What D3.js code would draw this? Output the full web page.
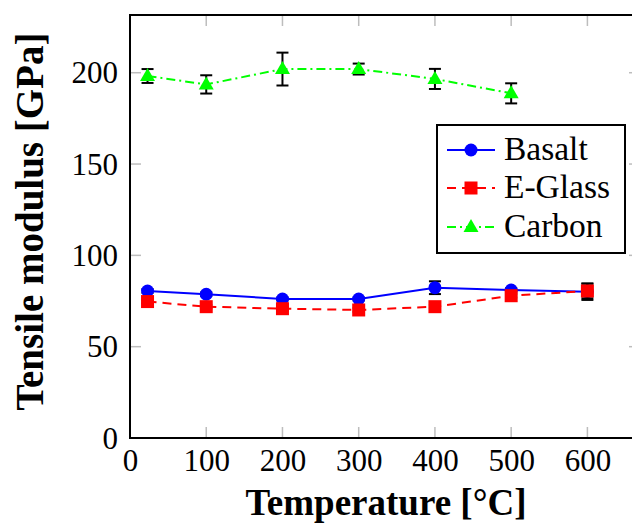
<!DOCTYPE html>
<html>
<head>
<meta charset="utf-8">
<script src="https://cdn.jsdelivr.net/npm/d3@7"></script>
<style>
  body { margin: 0; background: #fff; }
  svg { display: block; }
  svg text { font-family: "Liberation Serif", "DejaVu Serif", serif !important; fill: #000; }
</style>
</head>
<body>
<script>
// data
const temps = [23, 100, 200, 300, 400, 500, 600];
const basalt = [80.5, 78.7, 76.1, 76.1, 82.3, 81, 80.1];
const basaltErr = [1, 1, 0.8, 0.8, 3.5, 1, 4.5];
const eglass = [74.7, 71.9, 70.8, 70.1, 71.9, 77.9, 80.5];
const eglassErr = [1, 1, 1, 1, 1, 1, 4];
const carbonTemps = [23, 100, 200, 300, 400, 500];
const carbon = [198.2, 193.6, 202, 202, 196.6, 188.7];
const carbonErr = [3.8, 5, 9, 3, 5.5, 5.5];
const xTicks = [0, 100, 200, 300, 400, 500, 600];
const yTicks = [0, 50, 100, 150, 200];

const width = 632, height = 524;
const margin = { top: 15, left: 130, bottom: 86 };
const plotRight = 640;

const svg = d3.select('body').append('svg')
    .attr('width', width)
    .attr('height', height);

const x = d3.scaleLinear().domain([0, 669]).range([margin.left, plotRight]);
const y = d3.scaleLinear().domain([0, 231.6]).range([height - margin.bottom, margin.top]);

const plotBottom = height - margin.bottom;
const tickLen = 11;

// inner tick marks (gray) on all four sides
const tickG = svg.append('g').attr('stroke', '#bdbdbd').attr('stroke-width', 1.5);
xTicks.forEach(t => {
    tickG.append('line').attr('x1', x(t)).attr('x2', x(t)).attr('y1', plotBottom).attr('y2', plotBottom - tickLen);
    tickG.append('line').attr('x1', x(t)).attr('x2', x(t)).attr('y1', margin.top).attr('y2', margin.top + tickLen);
});
yTicks.forEach(t => {
    tickG.append('line').attr('x1', margin.left).attr('x2', margin.left + tickLen).attr('y1', y(t)).attr('y2', y(t));
    tickG.append('line').attr('x1', plotRight).attr('x2', plotRight - tickLen).attr('y1', y(t)).attr('y2', y(t));
});

// tick labels via d3 axes
const xAxis = d3.axisBottom(x).tickValues(xTicks).tickSize(0);
const gx = svg.append('g')
    .attr('transform', `translate(0, ${plotBottom})`)
    .call(xAxis);
gx.select('.domain').remove();
gx.selectAll('text')
    .attr('font-size', 31)
    .attr('y', 33)
    .attr('dy', null);

const yAxis = d3.axisLeft(y).tickValues(yTicks).tickSize(0);
const gy = svg.append('g')
    .attr('transform', `translate(${margin.left}, 0)`)
    .call(yAxis);
gy.select('.domain').remove();
gy.selectAll('text')
    .attr('font-size', 31)
    .attr('x', -12)
    .attr('dy', 10);

// frame
svg.append('rect')
    .attr('x', margin.left)
    .attr('y', margin.top)
    .attr('width', plotRight - margin.left)
    .attr('height', plotBottom - margin.top)
    .attr('fill', 'none')
    .attr('stroke', '#000')
    .attr('stroke-width', 2);

// axis titles
svg.append('text')
    .attr('x', 386)
    .attr('y', 515)
    .attr('text-anchor', 'middle')
    .attr('font-size', 37)
    .attr('font-weight', 'bold')
    .text('Temperature [°C]');
svg.append('text')
    .attr('transform', 'translate(43, 221.5) rotate(-90)')
    .attr('text-anchor', 'middle')
    .attr('font-size', 39)
    .attr('font-weight', 'bold')
    .text('Tensile modulus [GPa]');

const line = d3.line().x(d => x(d[0])).y(d => y(d[1]));

function errorBars(xs, vals, errs) {
    const g = svg.append('g').attr('stroke', '#000').attr('stroke-width', 2);
    xs.forEach((t, i) => {
        const px = x(t), lo = y(vals[i] - errs[i]), hi = y(vals[i] + errs[i]);
        g.append('line').attr('x1', px).attr('x2', px).attr('y1', lo).attr('y2', hi);
        g.append('line').attr('x1', px - 6).attr('x2', px + 6).attr('y1', lo).attr('y2', lo);
        g.append('line').attr('x1', px - 6).attr('x2', px + 6).attr('y1', hi).attr('y2', hi);
    });
}

const series = [
    { name: 'Basalt', xs: temps, vals: basalt, errs: basaltErr, color: '#0000ff', dash: null, mark: 'circle' },
    { name: 'E-Glass', xs: temps, vals: eglass, errs: eglassErr, color: '#ff0000', dash: '9,6', mark: 'square' },
    { name: 'Carbon', xs: carbonTemps, vals: carbon, errs: carbonErr, color: '#00ff00', dash: '9,4,2,4', mark: 'triangle' }
];

function drawMark(g, kind, px, py, color) {
    if (kind === 'circle') {
        g.append('circle').attr('cx', px).attr('cy', py).attr('r', 6.5).attr('fill', color);
    } else if (kind === 'square') {
        g.append('rect').attr('x', px - 6.5).attr('y', py - 6.5).attr('width', 13).attr('height', 13).attr('fill', color);
    } else {
        g.append('path')
            .attr('d', `M${px},${py - 8}L${px + 7.5},${py + 5}L${px - 7.5},${py + 5}Z`)
            .attr('fill', color);
    }
}

series.forEach(s => {
    const pts = s.xs.map((t, i) => [t, s.vals[i]]);
    errorBars(s.xs, s.vals, s.errs);
    svg.append('path')
        .datum(pts)
        .attr('d', line)
        .attr('fill', 'none')
        .attr('stroke', s.color)
        .attr('stroke-width', 2)
        .attr('stroke-dasharray', s.dash);
    const g = svg.append('g');
    pts.forEach(p => drawMark(g, s.mark, x(p[0]), y(p[1]), s.color));
});

// legend
const legend = svg.append('g');
legend.append('rect')
    .attr('x', 437).attr('y', 125)
    .attr('width', 188).attr('height', 128)
    .attr('fill', '#fff')
    .attr('stroke', '#000')
    .attr('stroke-width', 2);
const legendY = [150, 188, 227];
series.forEach((s, i) => {
    const ly = legendY[i];
    legend.append('line')
        .attr('x1', 447).attr('x2', 495)
        .attr('y1', ly).attr('y2', ly)
        .attr('stroke', s.color)
        .attr('stroke-width', 2)
        .attr('stroke-dasharray', s.dash);
    drawMark(legend, s.mark, 471, ly, s.color);
    legend.append('text')
        .attr('x', 504)
        .attr('y', ly + 10)
        .attr('font-size', 33.5)
        .text(s.name);
});
</script>
</body>
</html>
